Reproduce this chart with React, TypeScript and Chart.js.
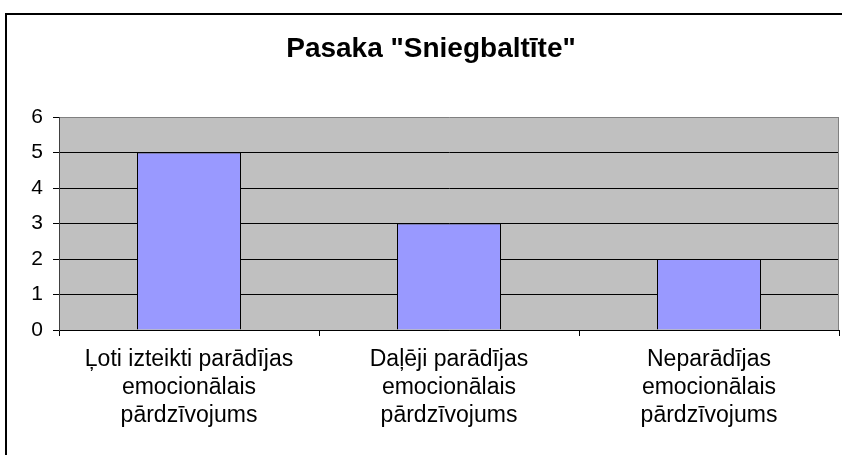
import React, { useEffect, useRef } from "react";
import { Chart, registerables } from "chart.js";

Chart.register(...registerables);

const TITLE = 'Pasaka "Sniegbaltīte"';
const categories: string[][] = [
  ["Ļoti izteikti parādījas", "emocionālais", "pārdzīvojums"],
  ["Daļēji parādījas", "emocionālais", "pārdzīvojums"],
  ["Neparādījas", "emocionālais", "pārdzīvojums"],
];
const values: number[] = [5, 3, 2];
const yTicks: number[] = [0, 1, 2, 3, 4, 5, 6];

const FONT = "'Liberation Sans', Arial, sans-serif";

const framePlugin = {
  id: "frame",
  beforeDraw(chart: any) {
    const { ctx, chartArea } = chart;
    ctx.save();
    ctx.fillStyle = "#ffffff";
    ctx.fillRect(0, 0, chart.width, chart.height);
    ctx.fillStyle = "#C0C0C0";
    ctx.fillRect(chartArea.left, chartArea.top, chartArea.right - chartArea.left, chartArea.bottom - chartArea.top);
    // outer border
    ctx.strokeStyle = "#000000";
    ctx.lineWidth = 2;
    ctx.strokeRect(6, 14, chart.width + 20, chart.height + 20);
    // title
    ctx.fillStyle = "#000000";
    ctx.font = `bold 28px ${FONT}`;
    ctx.textAlign = "center";
    ctx.textBaseline = "middle";
    ctx.fillText(TITLE, 431, 49);
    ctx.restore();
  },
  afterDraw(chart: any) {
    const { ctx, chartArea } = chart;
    ctx.save();
    ctx.strokeStyle = "#808080";
    ctx.lineWidth = 1;
    ctx.beginPath();
    ctx.moveTo(chartArea.right - 0.5, chartArea.top);
    ctx.lineTo(chartArea.right - 0.5, chartArea.bottom);
    ctx.stroke();
    ctx.restore();
  },
};

export default function App() {
  const ref = useRef<HTMLCanvasElement>(null);
  useEffect(() => {
    document.body.style.margin = "0";
    const chart = new Chart(ref.current as HTMLCanvasElement, {
      type: "bar",
      data: {
        labels: categories,
        datasets: [
          {
            data: values,
            backgroundColor: "#9999FF",
            borderColor: "#000000",
            borderWidth: 1,
            barPercentage: 0.4,
            categoryPercentage: 1,
          },
        ],
      },
      options: {
        animation: false,
        responsive: false,
        layout: { padding: { left: 0, top: 117, right: 3, bottom: 0 } },
        plugins: { legend: { display: false }, title: { display: false }, tooltip: { enabled: false } },
        scales: {
          x: {
            afterFit: (s: any) => {
              s.height = 455 - 330;
            },
            grid: {
              offset: true,
              drawOnChartArea: false,
              color: "#000000",
              tickLength: 6,
            },
            border: { display: true, color: "#000000" },
            ticks: {
              color: "#000000",
              font: { family: FONT, size: 23, lineHeight: 1.22 },
              padding: 10,
              maxRotation: 0,
              autoSkip: false,
            },
          },
          y: {
            min: 0,
            max: 6,
            afterFit: (s: any) => {
              s.width = 59;
            },
            afterBuildTicks: (s: any) => {
              s.ticks = yTicks.map((v) => ({ value: v }));
            },
            grid: {
              color: (c: any) => (c.tick && c.tick.value === 6 ? "#808080" : "#000000"),
              tickColor: "#000000",
              tickLength: 6,
            },
            border: { display: true, color: "#404040" },
            ticks: {
              color: "#000000",
              font: { family: FONT, size: 21 },
              padding: 10,
            },
          },
        },
      },
      plugins: [framePlugin],
    });
    return () => chart.destroy();
  }, []);
  return (
    <div style={{ width: 842, height: 455 }}>
      <canvas ref={ref} width={842} height={455} />
    </div>
  );
}
